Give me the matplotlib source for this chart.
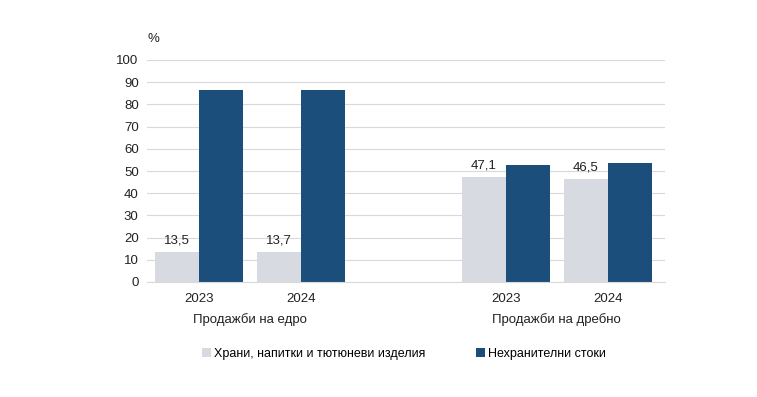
import matplotlib.pyplot as plt
import numpy as np

years = ['2023', '2024', '2023', '2024']
groups = ['Продажби на едро', 'Продажби на дребно']
food = [13.5, 13.7, 47.1, 46.5]
nonfood = [86.5, 86.3, 52.9, 53.5]
series_names = ['Храни, напитки и тютюневи изделия', 'Нехранителни стоки']

light = '#d7dbe1'
dark = '#1c4e7c'
plt.rcParams['font.family'] = ['Liberation Sans', 'DejaVu Sans']

fig = plt.figure(figsize=(7.57, 3.97), dpi=100)
ax = fig.add_axes([147/757, 1 - 282/397, (665 - 147)/757, (282 - 60)/397])

x = np.array([0, 1, 3, 4])
w = 0.43
b1 = ax.bar(x - w/2, food, w, color=light, label=series_names[0], zorder=2)
b2 = ax.bar(x + w/2, nonfood, w, color=dark, label=series_names[1], zorder=2)

# value labels only on the food series
for rect, v in zip(b1, food):
    ax.text(rect.get_x() + rect.get_width()/2, v + 2.5, f'{v:.1f}'.replace('.', ','),
            ha='center', va='bottom', fontsize=9.5, color='#222222')

ax.set_xlim(-0.51, 4.56)
ax.set_ylim(0, 100)
ax.set_yticks(range(0, 101, 10))
ax.yaxis.grid(True, color='#d9d9d9', linewidth=0.8, zorder=0)
ax.set_axisbelow(True)
ax.set_xticks(x)
ax.set_xticklabels(years)
ax.tick_params(axis='both', length=0, labelsize=9.5, colors='#222222')
ax.tick_params(axis='x', pad=8)
ax.tick_params(axis='y', pad=6)
for s in ['top', 'right', 'left']:
    ax.spines[s].set_visible(False)
ax.spines['bottom'].set_color('#d9d9d9')

for gx, g in zip([0.5, 3.5], groups):
    ax.text(gx, -0.17, g, transform=ax.get_xaxis_transform(), ha='center', va='center',
            fontsize=9.5, color='#222222')

fig.text(153/757, 1 - 39/397, '%', ha='center', va='center', fontsize=9.5, color='#222222')

fig.legend(handles=[b1, b2], loc='center', bbox_to_anchor=(404/757, 1 - 354/397), ncol=2,
           frameon=False, fontsize=9, handlelength=0.7, handleheight=0.7,
           handletextpad=0.3, columnspacing=4.0)

fig.savefig('out.png', dpi=100)
